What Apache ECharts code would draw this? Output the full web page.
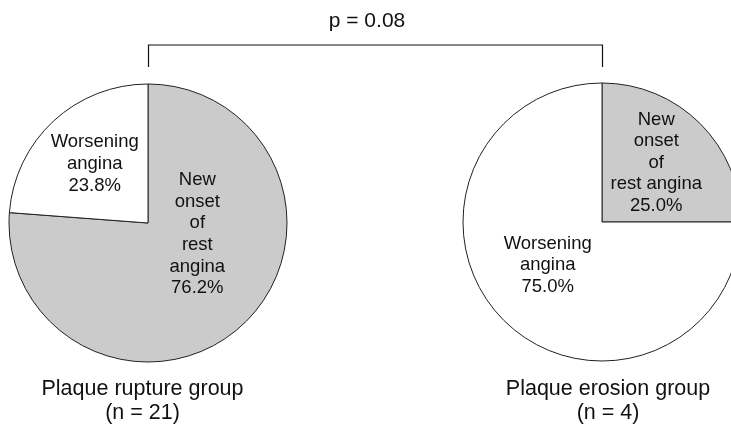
<!DOCTYPE html>
<html>
<head>
<meta charset="utf-8">
<script src="https://cdn.jsdelivr.net/npm/echarts@6/dist/echarts.min.js"></script>
<style>
  html, body { margin: 0; padding: 0; background: #fff; }
  #chart { width: 731px; height: 425px; }
</style>
</head>
<body>
<div id="chart"></div>
<script>
(function(){

    // categories (gray slice first, drawn clockwise from 12 o'clock)
    let categories = ['New onset of rest angina', 'Worsening angina'];

    // patient counts per group
    let ruptureCounts = [16, 5];   // n = 21
    let erosionCounts = [1, 3];    // n = 4

    // label text (line breaks as in the figure)
    let ruptureLabels = ['New\nonset\nof\nrest\nangina', 'Worsening\nangina'];
    let erosionLabels = ['New\nonset\nof\nrest angina', 'Worsening\nangina'];

    let groupNames = ['Plaque rupture group\n(n = 21)', 'Plaque erosion group\n(n = 4)'];
    let pText = 'p = 0.08';

    let font = "'Liberation Sans', Arial, Helvetica, sans-serif";
    let sliceColors = ['#cbcbcb', '#ffffff'];

    let radius = 139;
    let centers = [[148, 223], [602, 222]];
    // nudges so the inside labels sit where the figure has them
    let labelOffsets = [
        [[0, -42], [-4, -6]],
        [[3, -8], [-3, -8]]
    ];

    let _makePie = function(idx, counts, labels){
        return {
            type: 'pie',
            center: centers[idx],
            radius: radius,
            startAngle: 90,
            clockwise: true,
            silent: true,
            percentPrecision: 1,
            avoidLabelOverlap: false,
            emphasis: { disabled: true },
            labelLine: { show: false },
            itemStyle: {
                borderColor: '#222',
                borderWidth: 1
            },
            data: counts.map((v, i) => ({
                name: categories[i],
                value: v,
                itemStyle: { color: sliceColors[i] },
                label: {
                    offset: labelOffsets[idx][i],
                    formatter: (p) => labels[i] + '\n' + p.percent.toFixed(1) + '%'
                }
            })),
            label: {
                show: true,
                position: 'inside',
                color: '#111',
                fontFamily: font,
                fontSize: 18.5,
                lineHeight: 21.6,
                align: 'center',
                verticalAlign: 'middle'
            }
        };
    };

    let chart = echarts.init(document.getElementById('chart'), null, { renderer: 'canvas' });

    let bracketY = 45, tickY = 67;

    chart.setOption({
        animation: false,
        backgroundColor: '#fff',
        series: [
            _makePie(0, ruptureCounts, ruptureLabels),
            _makePie(1, erosionCounts, erosionLabels)
        ],
        graphic: [
            {
                type: 'polyline',
                silent: true,
                shape: {
                    points: [
                        [centers[0][0] + 0.5, tickY],
                        [centers[0][0] + 0.5, bracketY],
                        [centers[1][0] + 0.5, bracketY],
                        [centers[1][0] + 0.5, tickY]
                    ]
                },
                style: { stroke: '#111', lineWidth: 1.2, fill: null }
            },
            {
                type: 'text',
                silent: true,
                x: 367, y: 21,
                style: {
                    text: pText, font: '21px ' + font, fill: '#111',
                    textAlign: 'center', textVerticalAlign: 'middle'
                }
            },
            {
                type: 'text',
                silent: true,
                x: 142.5, y: 401,
                style: {
                    text: groupNames[0], font: '21.5px ' + font, fill: '#111',
                    lineHeight: 23.5, textAlign: 'center', textVerticalAlign: 'middle'
                }
            },
            {
                type: 'text',
                silent: true,
                x: 608, y: 401,
                style: {
                    text: groupNames[1], font: '21.5px ' + font, fill: '#111',
                    lineHeight: 23.5, textAlign: 'center', textVerticalAlign: 'middle'
                }
            }
        ]
    });

    window.addEventListener('resize', function(){ chart.resize(); });
})();
</script>
</body>
</html>
